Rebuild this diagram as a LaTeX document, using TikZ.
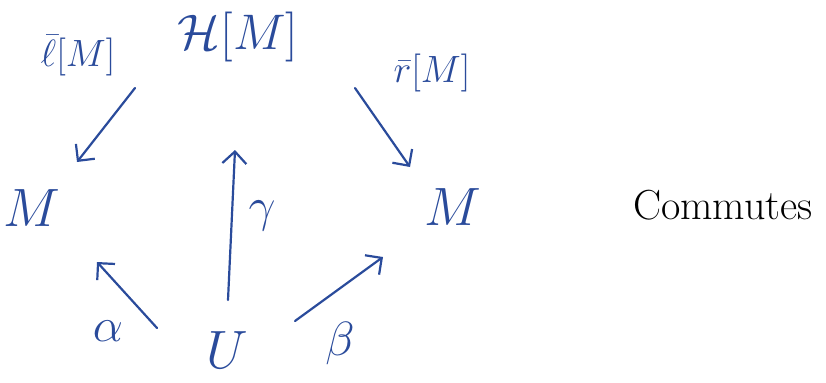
\RequirePackage{fix-cm}
\documentclass[tikz,border=0pt]{standalone}
\usepackage{amsmath,amssymb}
\usepackage{tikz}
\usetikzlibrary{arrows.meta,positioning,calc}
\definecolor{Ink}{HTML}{2A4B9B}

\begin{document}
\begin{tikzpicture}[x=.5pt,y=.5pt,
    obj/.style={Ink,font=\fontsize{27}{30}\selectfont},
    lab/.style={Ink,font=\fontsize{19}{22}\selectfont},
    greek/.style={Ink,font=\fontsize{24}{26}\selectfont},
    arr/.style={Ink,line width=1.1pt,line cap=round,
      -{Straight Barb[length=6pt,width=12pt,line width=1.1pt]}}]
  \useasboundingbox (0,0) rectangle (826,382);
  % objects
  \node[obj,font=\fontsize{25}{27}\selectfont,inner sep=1pt] (hm) at (238,345) {$\mathcal{H}[M]$};
  \node[obj] (ml) at (32,174) {$M$};
  \node[obj] (mr) at (453,175) {$M$};
  \node[obj] (u) at (227,32) {$U$};
  % arrows
  \draw[arr] ([shift={(-103,-51)}]hm.center) -- ([shift={(45,46)}]ml.center);
  \draw[arr] ([shift={(117,-51)}]hm.center) -- ([shift={(-43,40)}]mr.center);
  \draw[arr] ([shift={(1,50)}]u.center) -- ([shift={(-3,-113)}]hm.center);
  \draw[arr] ([shift={(-70,22)}]u.center) -- ([shift={(65,-54)}]ml.center);
  \draw[arr] ([shift={(68,29)}]u.center) -- ([shift={(-70,-50)}]mr.center);
  % labels
  \node[lab] (lbar) at (78,326) {$\bar{\ell}[M]$};
  \node[lab] (rbar) at (432,309) {$\bar{r}[M]$};
  \node[greek] (gam) at (262,166) {$\gamma$};
  \node[greek] (alp) at (108,51) {$\alpha$};
  \node[greek] (bet) at (340,39) {$\beta$};
  \node[font=\fontsize{21}{24}\selectfont] (comm) at (723,177) {Commutes};
\end{tikzpicture}
\end{document}
